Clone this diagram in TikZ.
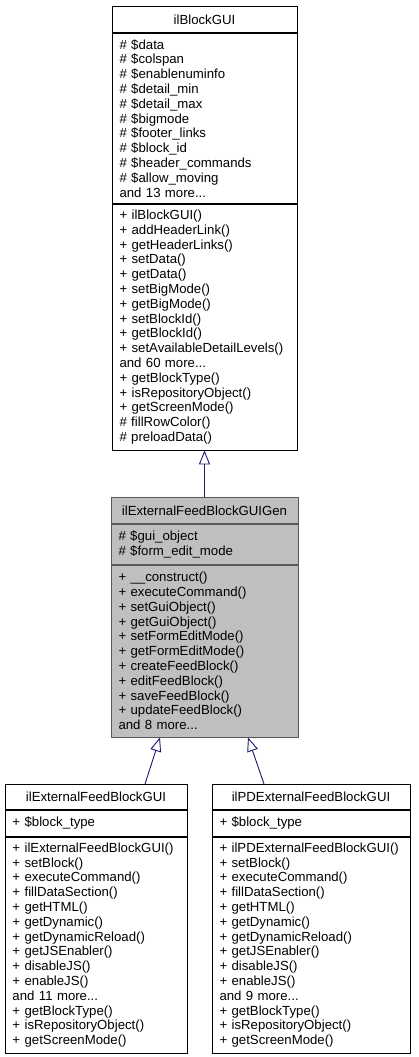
\documentclass[tikz,border=0pt]{standalone}
\usepackage{fontspec}
\setmainfont{Liberation Sans}
\usetikzlibrary{arrows.meta,positioning}
\definecolor{edgeblue}{RGB}{25,25,112}
\definecolor{currentfill}{RGB}{191,191,191}
\definecolor{currentline}{RGB}{90,90,90}

\begin{document}
\begin{tikzpicture}[x=1pt, y=-1pt,
    >={Triangle[open, length=14pt, width=11pt]},
    font=\fontsize{13.2}{14.8}\selectfont,
    part/.style={draw=black, line width=0.8pt, fill=white,
      inner xsep=7.5pt, inner ysep=0pt, anchor=north},
    classtitle/.style={part, align=center},
    members/.style={part, align=left},
    current/.style={fill=currentfill, draw=currentline},
    inherit/.style={edgeblue, line width=0.9pt, ->}]

  \useasboundingbox (0,0) rectangle (419,1057);

  % ------------------------------------------------------------
  % ilBlockGUI
  % ------------------------------------------------------------
  \node[classtitle, text width=170pt, minimum height=26pt]
    (basetitle) at (204.5,6) {ilBlockGUI};
  \node[members, text width=170pt, minimum height=170pt,
        below=0pt of basetitle] (baseattrs) {%
    \# \$data\\
    \# \$colspan\\
    \# \$enablenuminfo\\
    \# \$detail\_min\\
    \# \$detail\_max\\
    \# \$bigmode\\
    \# \$footer\_links\\
    \# \$block\_id\\
    \# \$header\_commands\\
    \# \$allow\_moving\\
    and 13 more...};
  \node[members, text width=170pt, minimum height=246pt,
        below=0pt of baseattrs] (baseops) {%
    + ilBlockGUI()\\
    + addHeaderLink()\\
    + getHeaderLinks()\\
    + setData()\\
    + getData()\\
    + setBigMode()\\
    + getBigMode()\\
    + setBlockId()\\
    + getBlockId()\\
    + setAvailableDetailLevels()\\
    and 60 more...\\
    + getBlockType()\\
    + isRepositoryObject()\\
    + getScreenMode()\\
    \# fillRowColor()\\
    \# preloadData()};

  % ------------------------------------------------------------
  % ilExternalFeedBlockGUIGen (current class)
  % ------------------------------------------------------------
  \node[classtitle, current, text width=172pt, minimum height=26pt]
    (gentitle) at (204.5,497) {ilExternalFeedBlockGUIGen};
  \node[members, current, text width=172pt, minimum height=40pt,
        below=0pt of gentitle] (genattrs) {%
    \# \$gui\_object\\
    \# \$form\_edit\_mode};
  \node[members, current, text width=172pt, minimum height=172pt,
        below=0pt of genattrs] (genops) {%
    + \_\_construct()\\
    + executeCommand()\\
    + setGuiObject()\\
    + getGuiObject()\\
    + setFormEditMode()\\
    + getFormEditMode()\\
    + createFeedBlock()\\
    + editFeedBlock()\\
    + saveFeedBlock()\\
    + updateFeedBlock()\\
    and 8 more...};

  % ------------------------------------------------------------
  % ilExternalFeedBlockGUI
  % ------------------------------------------------------------
  \node[classtitle, text width=167pt, minimum height=25pt]
    (feedtitle) at (96,784) {ilExternalFeedBlockGUI};
  \node[members, text width=167pt, minimum height=26pt,
        below=0pt of feedtitle] (feedattrs) {+ \$block\_type};
  \node[members, text width=167pt, minimum height=216pt,
        below=0pt of feedattrs] (feedops) {%
    + ilExternalFeedBlockGUI()\\
    + setBlock()\\
    + executeCommand()\\
    + fillDataSection()\\
    + getHTML()\\
    + getDynamic()\\
    + getDynamicReload()\\
    + getJSEnabler()\\
    + disableJS()\\
    + enableJS()\\
    and 11 more...\\
    + getBlockType()\\
    + isRepositoryObject()\\
    + getScreenMode()};

  % ------------------------------------------------------------
  % ilPDExternalFeedBlockGUI
  % ------------------------------------------------------------
  \node[classtitle, text width=183pt, minimum height=25pt]
    (pdtitle) at (311,784) {ilPDExternalFeedBlockGUI};
  \node[members, text width=183pt, minimum height=26pt,
        below=0pt of pdtitle] (pdattrs) {+ \$block\_type};
  \node[members, text width=183pt, minimum height=216pt,
        below=0pt of pdattrs] (pdops) {%
    + ilPDExternalFeedBlockGUI()\\
    + setBlock()\\
    + executeCommand()\\
    + fillDataSection()\\
    + getHTML()\\
    + getDynamic()\\
    + getDynamicReload()\\
    + getJSEnabler()\\
    + disableJS()\\
    + enableJS()\\
    and 9 more...\\
    + getBlockType()\\
    + isRepositoryObject()\\
    + getScreenMode()};

  % Inheritance edges
  \draw[inherit] (gentitle.north) -- (baseops.south);
  \draw[inherit] ([xshift=49pt]feedtitle.north) -- ([xshift=-44.5pt]genops.south);
  \draw[inherit] ([xshift=-47pt]pdtitle.north) -- ([xshift=43.5pt]genops.south);

\end{tikzpicture}
\end{document}
